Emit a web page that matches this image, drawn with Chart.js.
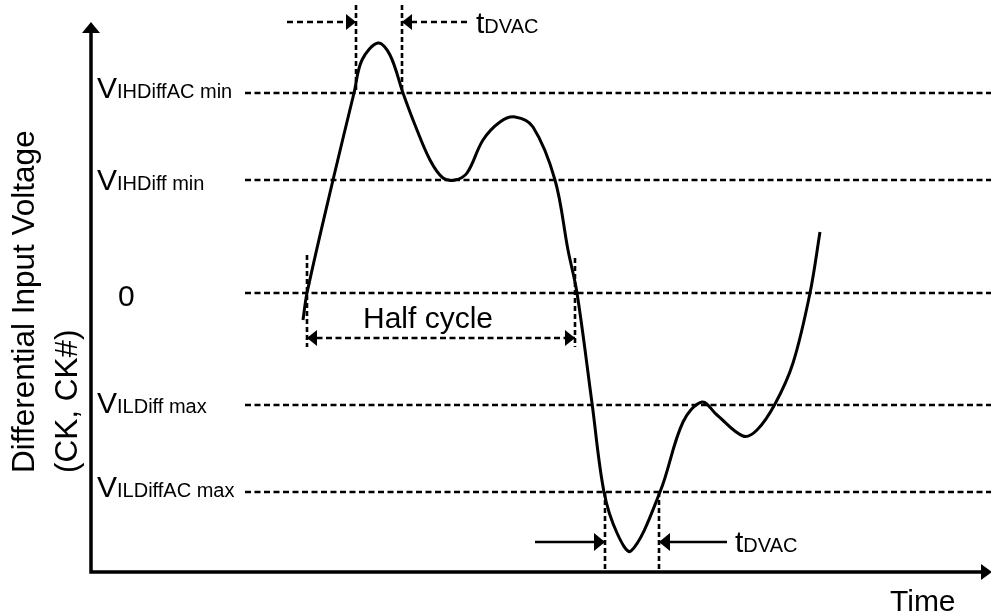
<!DOCTYPE html>
<html>
<head>
<meta charset="utf-8">
<script src="https://cdn.jsdelivr.net/npm/chart.js@4"></script>
<style>
  html, body { margin: 0; padding: 0; background: #fff; }
  canvas { display: block; }
</style>
</head>
<body>
<canvas id="DiffChart" width="991" height="615"></canvas>
<script>
// waveform (time units, voltage units; 0 = the "0" level)
const curveTime = [212, 216, 242, 263, 271, 287, 299, 312, 324, 339, 352, 364, 376, 392, 409, 424, 442, 464, 477, 486,
  501, 513, 526, 540, 569, 592, 611, 626, 652, 666, 684, 702, 719, 729];
const curveVolt = [-27, 0, 113, 200, 233, 250, 238, 200, 168, 133, 115, 113, 120, 153, 171, 176, 166, 113, 43, 0,
  -110, -199, -240, -258, -199, -129, -109, -122, -143, -137, -111, -70, 0, 61];

// reference levels
const levelMain = ["V", "V", "", "V", "V"];
const levelSub = ["IHDiffAC min", "IHDiff min", "0", "ILDiff max", "ILDiffAC max"];
const levelVolts = [200, 113, 0, -112, -199];
const levelFrom = 154;

// axis ranges
const timeMax = 900;
const voltMin = -279;
const voltMax = 293;
const axisTop = 271;

// timing markers
const dvacHighTimes = [265, 311];
const dvacHighTails = [196, 376];
const dvacLowTimes = [514, 568];
const dvacLowTails = [444, 636];
const halfCycleTimes = [216, 484];
const halfCycleVolt = -45;

function seg(x0, y0, x1, y1) {
  return [{ x: x0, y: y0 }, { x: x1, y: y1 }];
}

function lineSet(data, dash, width, heads) {
  return {
    data,
    borderColor: "#000",
    borderWidth: width,
    borderDash: dash,
    pointRadius: 0,
    tension: 0,
    arrowHeads: heads || [],
  };
}

const datasets = [];

datasets.push({
  data: curveTime.map((t, i) => ({ x: t, y: curveVolt[i] })),
  borderColor: "#000",
  borderWidth: 3,
  pointRadius: 0,
  tension: 0.35,
});

levelVolts.forEach((v) => {
  datasets.push(lineSet(seg(levelFrom, v, timeMax, v), [6, 3.5], 2.6));
});

// tDVAC window at the top
dvacHighTimes.forEach((t) => {
  datasets.push(lineSet(seg(t, 288, t, levelVolts[0]), [5, 3], 2.6));
});
datasets.push(lineSet(seg(dvacHighTails[0], axisTop, dvacHighTimes[0], axisTop), [6, 4], 2.6, ["end"]));
datasets.push(lineSet(seg(dvacHighTails[1], axisTop, dvacHighTimes[1], axisTop), [6, 4], 2.6, ["end"]));

// half cycle
datasets.push(lineSet(seg(halfCycleTimes[0], 38, halfCycleTimes[0], -54), [5, 3], 2.6));
datasets.push(lineSet(seg(halfCycleTimes[1], 35, halfCycleTimes[1], -54), [5, 3], 2.6));
datasets.push(lineSet(seg(halfCycleTimes[0], halfCycleVolt, halfCycleTimes[1], halfCycleVolt), [6, 3.5], 2.6, ["start", "end"]));

// tDVAC window at the bottom
dvacLowTimes.forEach((t) => {
  datasets.push(lineSet(seg(t, levelVolts[4], t, voltMin), [5, 3], 2.6));
});
datasets.push(lineSet(seg(dvacLowTails[0], -249, dvacLowTimes[0], -249), [], 2.6, ["end"]));
datasets.push(lineSet(seg(dvacLowTails[1], -249, dvacLowTimes[1], -249), [], 2.6, ["end"]));

const FONT = "'Liberation Sans', Arial, Helvetica, sans-serif";

function drawHead(ctx, tipX, tipY, dx, dy, len, half) {
  const d = Math.hypot(dx, dy) || 1;
  const ux = dx / d, uy = dy / d;
  const bx = tipX - ux * len, by = tipY - uy * len;
  ctx.beginPath();
  ctx.moveTo(tipX, tipY);
  ctx.lineTo(bx - uy * half, by + ux * half);
  ctx.lineTo(bx + uy * half, by - ux * half);
  ctx.closePath();
  ctx.fill();
}

function drawSubText(ctx, main, sub, x, y) {
  ctx.font = "30px " + FONT;
  ctx.fillText(main, x, y);
  const w = ctx.measureText(main).width;
  ctx.font = "20px " + FONT;
  ctx.fillText(sub, x + w, y);
}

const diagramPlugin = {
  id: "diagramParts",
  afterDatasetsDraw(chart) {
    const { ctx } = chart;
    const xs = chart.scales.x;
    const ys = chart.scales.y;
    ctx.save();
    ctx.fillStyle = "#000";
    ctx.strokeStyle = "#000";

    // arrow heads on marker lines
    chart.data.datasets.forEach((ds, i) => {
      if (!ds.arrowHeads || !ds.arrowHeads.length) return;
      const pts = chart.getDatasetMeta(i).data;
      const a = pts[0], b = pts[pts.length - 1];
      const solid = !ds.borderDash.length;
      const len = solid ? 11 : 10;
      const half = solid ? 9 : 8;
      if (ds.arrowHeads.includes("end")) drawHead(ctx, b.x, b.y, b.x - a.x, b.y - a.y, len, half);
      if (ds.arrowHeads.includes("start")) drawHead(ctx, a.x, a.y, a.x - b.x, a.y - b.y, len, half);
    });

    // axes
    const x0 = xs.getPixelForValue(0);
    const xr = xs.getPixelForValue(timeMax);
    const yb = ys.getPixelForValue(voltMin);
    const yt = ys.getPixelForValue(axisTop);
    ctx.lineWidth = 3.5;
    ctx.setLineDash([]);
    ctx.beginPath();
    ctx.moveTo(x0, yb + 1.75);
    ctx.lineTo(x0, yt + 8);
    ctx.moveTo(x0 - 1.75, yb);
    ctx.lineTo(xr - 8, yb);
    ctx.stroke();
    drawHead(ctx, x0, yt, 0, -1, 11, 9);
    drawHead(ctx, xr + 1, yb, 1, 0, 11, 8);

    // level labels
    const nudge = [5, 10, 13, 8, 5];
    ctx.textBaseline = "alphabetic";
    ctx.textAlign = "left";
    levelVolts.forEach((v, i) => {
      const py = ys.getPixelForValue(v) + nudge[i];
      if (levelMain[i]) {
        drawSubText(ctx, levelMain[i], levelSub[i], x0 + 6, py);
      } else {
        ctx.font = "30px " + FONT;
        ctx.fillText(levelSub[i], x0 + 27, py);
      }
    });

    // tDVAC labels
    drawSubText(ctx, "t", "DVAC", xs.getPixelForValue(dvacHighTails[1]) + 9, ys.getPixelForValue(axisTop) + 11);
    drawSubText(ctx, "t", "DVAC", xs.getPixelForValue(dvacLowTails[1]) + 8, ys.getPixelForValue(-249) + 10);

    // half cycle label
    ctx.font = "30px " + FONT;
    ctx.textAlign = "center";
    ctx.fillText("Half cycle", (xs.getPixelForValue(halfCycleTimes[0]) + xs.getPixelForValue(halfCycleTimes[1])) / 2 - 13,
      ys.getPixelForValue(halfCycleVolt) - 10);

    // axis titles
    ctx.textAlign = "left";
    ctx.fillText("Time", 890, 611);

    ctx.font = "31.5px " + FONT;
    ctx.save();
    ctx.translate(34, 473);
    ctx.rotate(-Math.PI / 2);
    ctx.fillText("Differential Input Voltage", 0, 0);
    ctx.restore();
    ctx.save();
    ctx.translate(77, 473);
    ctx.rotate(-Math.PI / 2);
    ctx.fillText("(CK, CK#)", 0, 0);
    ctx.restore();

    ctx.restore();
  },
};

new Chart(document.getElementById("DiffChart"), {
  type: "line",
  data: { datasets },
  options: {
    responsive: false,
    animation: false,
    events: [],
    layout: { padding: { left: 91, right: 0, top: 0, bottom: 43 } },
    plugins: { legend: { display: false }, tooltip: { enabled: false } },
    scales: {
      x: { type: "linear", min: 0, max: timeMax, display: false },
      y: { type: "linear", min: voltMin, max: voltMax, display: false },
    },
  },
  plugins: [diagramPlugin],
});
</script>
</body>
</html>
